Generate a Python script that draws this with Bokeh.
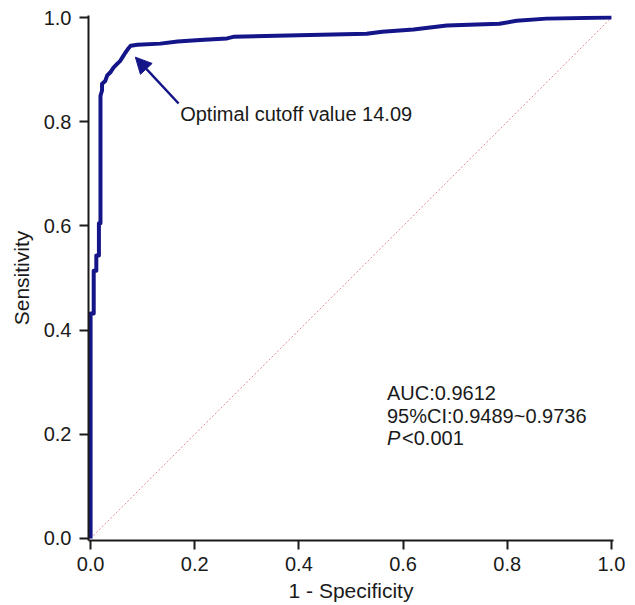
from bokeh.plotting import figure
from bokeh.models import (Arrow, NormalHead, FixedTicker, PrintfTickFormatter,
                          Range1d, Label)
from bokeh.embed import file_html
from bokeh.resources import INLINE

# ROC curve vertices (1 - specificity, sensitivity)
fpr = [0.0, 0.0, 0.006, 0.006, 0.011, 0.011, 0.016, 0.016, 0.019, 0.019,
       0.022, 0.022, 0.028, 0.032, 0.038, 0.044, 0.050, 0.057, 0.062, 0.067,
       0.072, 0.077, 0.090, 0.134, 0.167, 0.210, 0.262, 0.274, 0.400, 0.530,
       0.560, 0.620, 0.684, 0.785, 0.818, 0.875, 1.000]
tpr = [0.0, 0.432, 0.432, 0.514, 0.514, 0.543, 0.543, 0.605, 0.605, 0.850,
       0.860, 0.873, 0.878, 0.889, 0.895, 0.904, 0.910, 0.917, 0.925, 0.933,
       0.940, 0.946, 0.948, 0.950, 0.954, 0.957, 0.960, 0.963, 0.966, 0.969,
       0.973, 0.977, 0.985, 0.988, 0.994, 0.998, 1.000]

# reference (chance) line
diag_x = [0.0, 1.0]
diag_y = [0.0, 1.0]

ticks = [0.0, 0.2, 0.4, 0.6, 0.8, 1.0]

# annotation of the optimal cutoff
cutoff_text = "Optimal cutoff value 14.09"
cutoff_label_xy = (0.172, 0.815)
arrow_tail = (0.169, 0.835)
arrow_tip = (0.086, 0.924)

# statistics block
stats_lines = ["AUC:0.9612", "95%CI:0.9489~0.9736"]
stats_x = 0.569
stats_y = [0.279, 0.236]
p_label = "P"
p_rest = "<0.001"
p_y = 0.193
p_rest_x = 0.598

FONT = "Liberation Sans"
TXT = "#1a1a1a"
CURVE = "#15158a"

p = figure(width=635, height=605,
           x_range=Range1d(-0.004, 1.004), y_range=Range1d(-0.004, 1.004),
           output_backend="svg", toolbar_location=None,
           min_border_left=88, min_border_top=15, min_border_right=22,
           min_border_bottom=65,
           x_axis_label="1 - Specificity", y_axis_label="Sensitivity")
p.grid.visible = False
p.outline_line_color = None
p.background_fill_color = "white"

for ax in (p.xaxis[0], p.yaxis[0]):
    ax.ticker = FixedTicker(ticks=ticks)
    ax.formatter = PrintfTickFormatter(format="%.1f")
    ax.axis_line_width = 2
    ax.axis_line_color = TXT
    ax.major_tick_line_width = 2
    ax.major_tick_line_color = TXT
    ax.major_tick_out = 9
    ax.major_tick_in = 0
    ax.minor_tick_line_color = None
    ax.major_label_text_font = FONT
    ax.major_label_text_font_size = "20px"
    ax.major_label_text_color = TXT
    ax.axis_label_text_font = FONT
    ax.axis_label_text_font_size = "21px"
    ax.axis_label_text_font_style = "normal"
    ax.axis_label_text_color = TXT

p.xaxis[0].major_label_standoff = 7
p.xaxis[0].axis_label_standoff = 5
p.yaxis[0].major_label_standoff = 8
p.yaxis[0].axis_label_standoff = 8

p.line(diag_x, diag_y, line_color="#e89090", line_width=1, line_dash="2 2")
p.line(fpr, tpr, line_color=CURVE, line_width=4, line_join="round")

p.add_layout(Arrow(end=NormalHead(size=16, fill_color=CURVE, line_color=CURVE),
                   x_start=arrow_tail[0], y_start=arrow_tail[1],
                   x_end=arrow_tip[0], y_end=arrow_tip[1],
                   line_color=CURVE, line_width=2.5))

p.add_layout(Label(x=cutoff_label_xy[0], y=cutoff_label_xy[1], text=cutoff_text,
                   text_font=FONT, text_font_size="20px", text_color=TXT,
                   text_baseline="alphabetic"))

for line, yy in zip(stats_lines, stats_y):
    p.add_layout(Label(x=stats_x, y=yy, text=line, text_font=FONT,
                       text_font_size="20px", text_color=TXT,
                       text_baseline="alphabetic"))
p.add_layout(Label(x=stats_x, y=p_y, text=p_label, text_font=FONT,
                   text_font_size="20px", text_color=TXT,
                   text_font_style="italic", text_baseline="alphabetic"))
p.add_layout(Label(x=p_rest_x, y=p_y, text=p_rest, text_font=FONT,
                   text_font_size="20px", text_color=TXT,
                   text_baseline="alphabetic"))

open("out.html", "w").write(file_html(p, INLINE))
